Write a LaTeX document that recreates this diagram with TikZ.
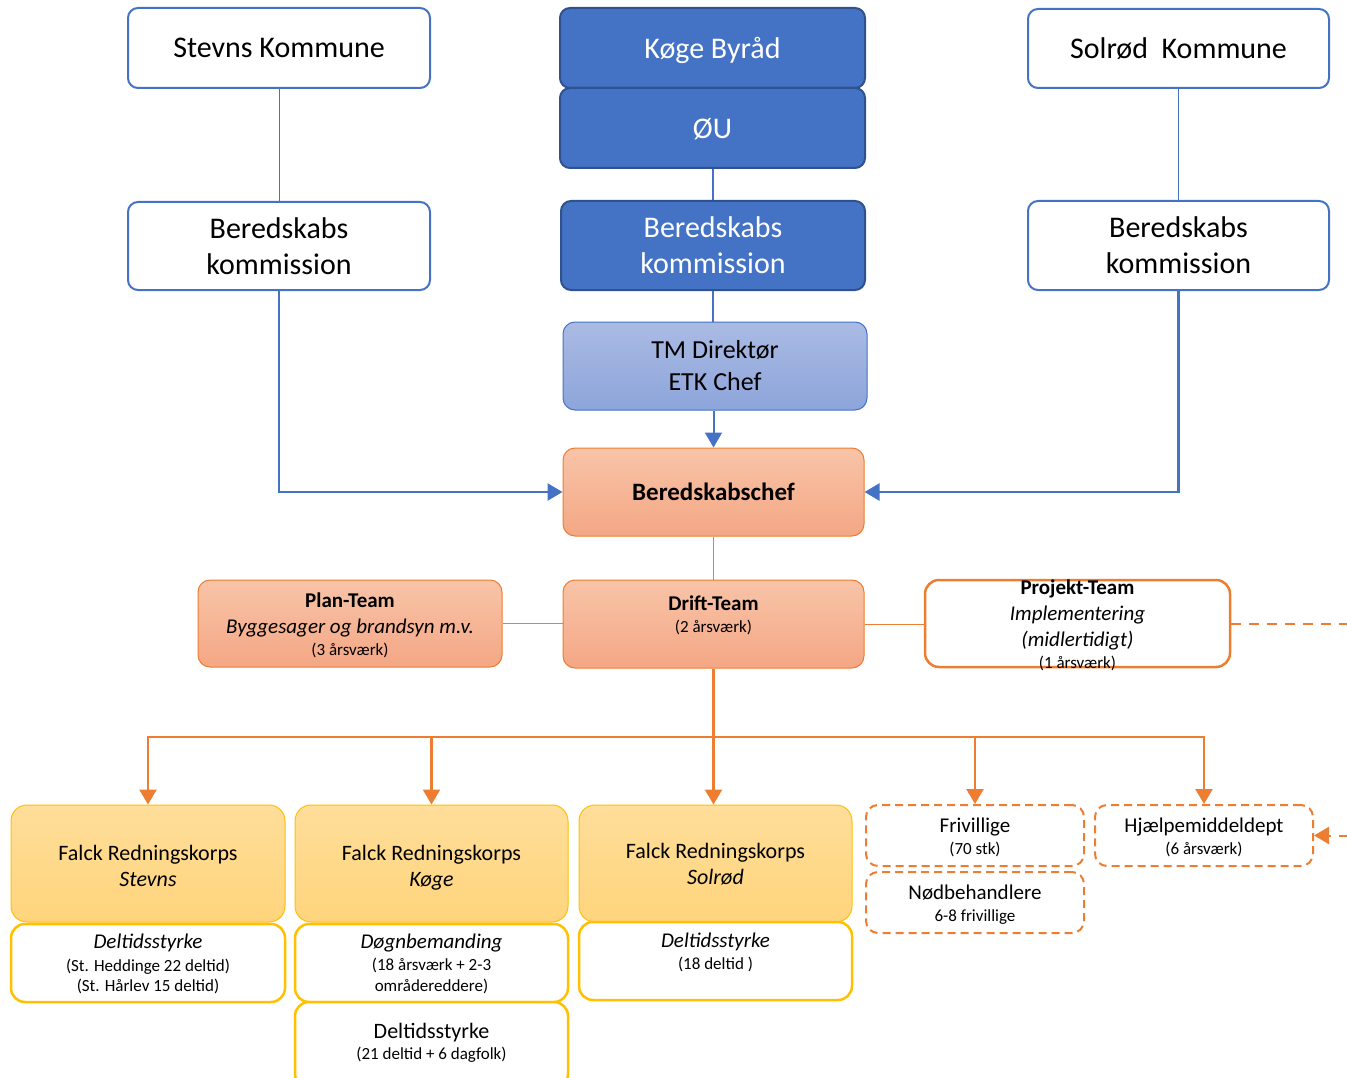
\documentclass[tikz,border=0pt]{standalone}
\usepackage{fontspec}
\setmainfont{Carlito}
\usetikzlibrary{arrows.meta}
\definecolor{bl}{HTML}{4472C4}
\definecolor{bldk}{HTML}{2F528F}
\definecolor{tmtop}{HTML}{AABBE3}
\definecolor{tmbot}{HTML}{8DA5DB}
\definecolor{orc}{HTML}{ED7D31}
\definecolor{ortop}{HTML}{F8C4A8}
\definecolor{orbot}{HTML}{F4A784}
\definecolor{gold}{HTML}{FFC000}
\definecolor{gtop}{HTML}{FFDE9A}
\definecolor{gbot}{HTML}{FFD47C}
\newcommand\Tst[1]{\rule{0pt}{#1pt}}
\newcommand\Dst[1]{\rule[-#1pt]{0pt}{#1pt}}
\tikzset{
  box/.style={rounded corners=10pt, inner sep=0pt, align=center, anchor=center},
  sz/.style 2 args={minimum width=#1, minimum height=#2},
  whiteblue/.style={box, draw=bl, line width=2pt, fill=white, font=\fontsize{30}{36}\selectfont},
  darkblue/.style={box, draw=bldk, line width=2pt, fill=bl, text=white, font=\fontsize{30}{36}\selectfont},
  tmbox/.style={box, rounded corners=12pt, draw=bl, line width=1pt, top color=tmtop, bottom color=tmbot, font=\fontsize{26}{32}\selectfont},
  orbox/.style={box, rounded corners=12pt, draw=orc, line width=1pt, top color=ortop, bottom color=orbot, font=\fontsize{17}{21}\selectfont},
  projbox/.style={box, rounded corners=14pt, draw=orc, line width=2.5pt, fill=white},
  falck/.style={box, rounded corners=16pt, draw=gold, line width=1pt, top color=gtop, bottom color=gbot, font=\fontsize{22}{26}\selectfont},
  gbox/.style={box, rounded corners=14pt, draw=gold, line width=2.5pt, fill=white, font=\fontsize{17}{20}\selectfont},
  dbox/.style={box, rounded corners=12pt, draw=orc, line width=2pt, dash pattern=on 8pt off 5pt, fill=white, font=\fontsize{17}{20}\selectfont},
  txt/.style={inner sep=0pt, align=center, font=\fontsize{17}{21}\selectfont},
  tip/.style={-{Triangle[width=17pt,length=15pt]}},
  thinbl/.style={draw=bl, line width=1pt},
  thickbl/.style={draw=bl, line width=2.5pt},
  thinor/.style={draw=orc, line width=1pt},
  thickor/.style={draw=orc, line width=2.5pt},
}
\begin{document}
\begin{tikzpicture}[x=1pt,y=-1pt]
\useasboundingbox (0,0) rectangle (1347,1078);
\clip (0,0) rectangle (1347,1078);

% top row
\node[whiteblue, sz={302pt}{80pt}] (stevns) at (279,48) {Stevns Kommune};
\node[darkblue, sz={305pt}{80pt}] (byraad) at (712.5,48) {\Tst{26}Køge Byråd};
\node[darkblue, sz={305pt}{80pt}] (ou) at (712.5,128) {\Tst{22}ØU};
\node[whiteblue, sz={301pt}{79pt}] (solrod) at (1178.5,48.5) {Solrød\ \ Kommune};

% beredskabskommissioner
\node[whiteblue, sz={302pt}{88pt}] (lbered) at (279,246) {Beredskabs\\kommission};
\node[darkblue, sz={304pt}{89pt}] (mbered) at (713,245.5) {Beredskabs\\kommission};
\node[whiteblue, sz={301pt}{89pt}] (rbered) at (1178.5,245.5) {Beredskabs\\kommission};

\node[tmbox, sz={304pt}{88pt}] (tm) at (715,366) {TM Direktør\\ETK Chef};
\node[orbox, sz={301pt}{88pt}, font=\fontsize{25}{30}\selectfont\bfseries] (chef) at (713.5,492) {Beredskabschef};

% teams
\node[orbox, sz={304pt}{87pt}] (plan) at (350,623.5)
  {\Tst{22.4}{\fontsize{21}{25}\selectfont\bfseries Plan-Team}\\[5pt]{\fontsize{21}{25}\selectfont\itshape Byggesager og brandsyn m.v.}\\[1pt](3 årsværk)\Dst{6}};
\node[orbox, sz={301pt}{88pt}] (drift) at (713.5,624)
  {\Tst{17}{\fontsize{21}{25}\selectfont\bfseries Drift-Team}\\[1pt](2 årsværk)\Dst{21.6}};
\node[projbox, sz={305pt}{87pt}] (proj) at (1077.5,623.5) {};
\node[txt] (projtxt) at (1077.5,623.5)
  {\Tst{22.4}{\fontsize{21}{25}\selectfont\bfseries Projekt-Team}\\[5pt]{\fontsize{21}{25}\selectfont\itshape Implementering}\\[5pt]{\fontsize{21}{25}\selectfont\itshape (midlertidigt)}\\[1pt](1 årsværk)\Dst{6}};

% Falck
\node[falck, sz={274pt}{117pt}] (fs) at (148,863.5) {\Tst{25}Falck Redningskorps\\\textit{Stevns}\Dst{6}};
\node[gbox, sz={274pt}{78pt}] (fsl) at (148,963)
  {\Tst{20.1}{\fontsize{21}{25}\selectfont\itshape Deltidsstyrke}\\[2.7pt](St. Heddinge 22 deltid)\\(St. Hårlev 15 deltid)\Dst{6}};
\node[falck, sz={273pt}{117pt}] (fk) at (431.5,863.5) {\Tst{25}Falck Redningskorps\\\textit{Køge}\Dst{6}};
\node[gbox, sz={273pt}{78pt}] (fkl) at (431.5,963)
  {\Tst{20.1}{\fontsize{21}{25}\selectfont\itshape Døgnbemanding}\\[1.7pt](18 årsværk + 2-3\\[1pt]områdereddere)\Dst{6}};
\node[gbox, sz={273pt}{86pt}] (fkd) at (431.5,1045)
  {\Tst{17}{\fontsize{22}{26}\selectfont Deltidsstyrke}\\[1.4pt](21 deltid + 6 dagfolk)\Dst{9.6}};
\node[falck, sz={273pt}{117pt}] (fsol) at (715.5,863.5) {\Tst{21}Falck Redningskorps\\\textit{Solrød}\Dst{6}};
\node[gbox, sz={273pt}{78pt}] (fsoll) at (715.5,961)
  {\Tst{17}{\fontsize{21}{25}\selectfont\itshape Deltidsstyrke}\\[1.7pt](18 deltid )\Dst{21.9}};

% dashed boxes
\node[dbox, sz={218pt}{61pt}] (friv) at (975,835.5) {\Tst{22.1}{\fontsize{21}{25}\selectfont Frivillige}\\[1.7pt](70 stk)\Dst{6}};
\node[dbox, sz={218pt}{61pt}] (nod) at (975,902.5) {\Tst{22.1}{\fontsize{21}{25}\selectfont Nødbehandlere}\\[1.7pt]6-8 frivillige\Dst{6}};
\node[dbox, sz={218pt}{61pt}] (hj) at (1204,835.5) {\Tst{22.1}{\fontsize{21}{25}\selectfont Hjælpemiddeldept}\\[1.7pt](6 årsværk)\Dst{6}};

% connectors (blue)
\draw[thinbl] (stevns) -- (lbered);
\draw[thinbl] (solrod) -- (rbered);
\draw[draw=bl, line width=2pt] (ou.south) -- (ou.south |- mbered.north);
\draw[draw=bl, line width=2pt] (mbered.south) -- (mbered.south |- tm.north);
\draw[draw=bl, line width=2pt, tip] (chef.north |- tm.south) -- (chef.north);
\draw[thickbl, tip] (lbered.south) |- (chef.west);
\draw[thickbl, tip] (rbered.south) |- (chef.east);

% connectors (orange)
\draw[thinor] (chef.south) -- (chef.south |- drift.north);
\draw[thinor] (plan.east) -- (plan.east -| drift.west);
\draw[thinor] (drift.east) -- (drift.east -| proj.west);
\coordinate (bus) at (713.5,737);
\draw[thickor] (drift.south) -- (bus);
\draw[thickor, tip] (bus) -| (fs.north);
\draw[thickor, tip] (bus) -| (fk.north);
\draw[thickor, tip] (bus) -- (bus |- fsol.north);
\draw[thickor, tip] (bus) -| (friv.north);
\draw[thickor, tip] (bus) -| (hj.north);
\coordinate (offr) at (1400,623.5);
\draw[draw=orc, line width=2pt, dash pattern=on 10pt off 8pt, tip] (proj.east) -- (offr) |- (hj.east);
\end{tikzpicture}
\end{document}
